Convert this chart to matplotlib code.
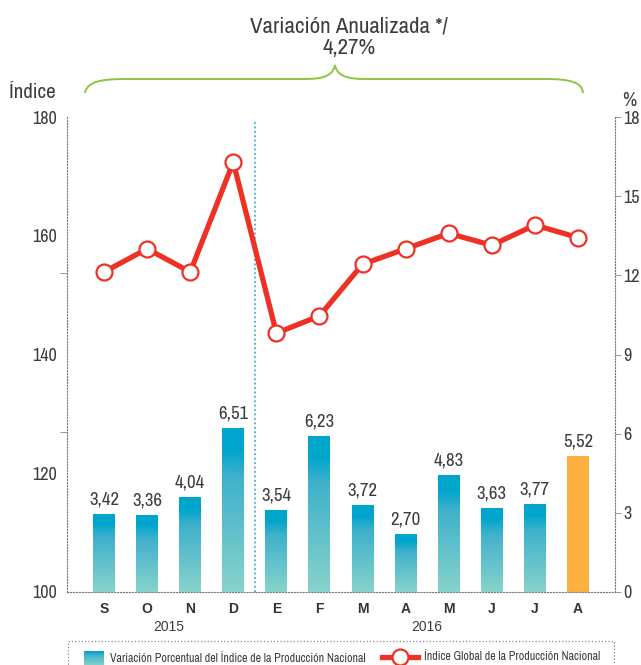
import numpy as np
import matplotlib.pyplot as plt
from matplotlib.colors import LinearSegmentedColormap
from matplotlib.path import Path
from matplotlib.patches import PathPatch, Rectangle
from matplotlib.lines import Line2D

plt.rcParams['font.family'] = ['Archivo Narrow', 'Liberation Sans Narrow', 'DejaVu Sans']

# data
months = ['S', 'O', 'N', 'D', 'E', 'F', 'M', 'A', 'M', 'J', 'J', 'A']
years = ['2015', '2016']
variacion = [3.42, 3.36, 4.04, 6.51, 3.54, 6.23, 3.72, 2.70, 4.83, 3.63, 3.77, 5.52]
indice = [153.9, 157.8, 153.9, 172.4, 143.6, 146.5, 155.2, 157.8, 160.4, 158.4, 161.8, 159.7]

TXT = '#3d3d3d'
W, H = 641, 665

def fx(px):
    return px / W

def fy(py):
    return 1 - py / H

fig = plt.figure(figsize=(6.41, 6.65), dpi=100)
rect = [fx(67), fy(592), fx(615) - fx(67), fy(117) - fy(592)]

# bars (gradient) on their own axis
ax_bar = fig.add_axes(rect)
ax_bar.set_xlim(-0.86, 11.86)
ax_bar.set_ylim(0.6, 17.81)
lo = ax_bar.get_ylim()[0]
x = np.arange(len(months))
colors = ['#00a5cc'] * (len(months) - 1) + ['#fbb040']
bars = ax_bar.bar(x, variacion, width=0.51, color=colors, zorder=2)
cmap = LinearSegmentedColormap.from_list('grad', [(0, '#88d3ca'), (0.7, '#3fb1cc'), (0.87, '#00a5cc'), (1, '#00a5cc')])
grad = np.linspace(0, 1, 256).reshape(-1, 1)
for b in bars[:-1]:
    x0, w, h = b.get_x(), b.get_width(), b.get_height()
    ax_bar.imshow(grad, cmap=cmap, origin='lower', aspect='auto',
                  extent=(x0, x0 + w, lo, h), zorder=3)
for b, v in zip(bars, variacion):
    ax_bar.annotate(f'{v:.2f}'.replace('.', ','), (b.get_x() + b.get_width() / 2, b.get_height()),
                    xytext=(0, 5), textcoords='offset points', ha='center', va='bottom',
                    fontsize=13.5, color=TXT)
ax_bar.set_xlim(-0.86, 11.86)
ax_bar.set_ylim(0.6, 17.81)
ax_bar.set_xticks(x)
ax_bar.set_xticklabels(months, fontweight='bold', fontsize=10, color='#333333',
                       family=['Liberation Sans', 'DejaVu Sans'])
ax_bar.tick_params(axis='x', length=0, pad=7)
ax_bar.set_yticks([])
for s in ['top', 'left', 'right']:
    ax_bar.spines[s].set_visible(False)
ax_bar.spines['bottom'].set_linestyle(':')
ax_bar.spines['bottom'].set_color('#777777')
ax_bar.axvline(3.5, ymax=0.99, color='#1ea5dc', linestyle=':', lw=1.2, zorder=1)

# year labels
for yr, grp in zip(years, [x[:4], x[4:]]):
    ax_bar.text(np.mean(grp), -0.074, yr, transform=ax_bar.get_xaxis_transform(),
                ha='center', va='center', fontsize=10, color=TXT,
                family=['Liberation Sans', 'DejaVu Sans'])

# right axis (%)
ax_r = ax_bar.twinx()
ax_r.set_ylim(0, 18)
ax_r.set_yticks(np.arange(0, 19, 3))
ax_r.tick_params(axis='y', length=4, width=0.6, color='#888888', labelsize=13, labelcolor=TXT, pad=2)
for s in ['top', 'left', 'bottom']:
    ax_r.spines[s].set_visible(False)
ax_r.spines['right'].set_linestyle(':')
ax_r.spines['right'].set_color('#777777')

# left axis (indice) with line
ax_l = ax_bar.twinx()
ax_l.yaxis.tick_left()
ax_l.set_ylim(100, 180)
ax_l.set_yticks(np.arange(100, 181, 20))
ax_l.set_yticks([126.9, 153.7, 180], minor=True)
ax_l.tick_params(axis='y', which='major', length=0, labelsize=13, labelcolor=TXT, pad=7)
ax_l.tick_params(axis='y', which='minor', length=5, width=0.6, color='#888888')
for s in ['top', 'right', 'bottom']:
    ax_l.spines[s].set_visible(False)
ax_l.spines['left'].set_visible(True)
ax_l.spines['left'].set_linestyle(':')
ax_l.spines['left'].set_color('#777777')
ax_l.plot(x, indice, color='#ee3124', lw=3.8, marker='o', ms=11.5,
          mfc='white', mec='#ee3124', mew=1.6, zorder=5, clip_on=False)

# axis titles
fig.text(fx(9), fy(92), 'Índice', fontsize=15, color=TXT, va='center', ha='left')
fig.text(fx(629), fy(100), '%', fontsize=14, color=TXT, va='center', ha='center')

# title and brace
fig.text(fx(349), fy(26), 'Variación Anualizada */', fontsize=16.5, color=TXT, ha='center', va='center')
fig.text(fx(349), fy(48), '4,27%', fontsize=16.5, color=TXT, ha='center', va='center')
pts = [(85, 93), (87, 82), (100, 79), (125, 79), (305, 79), (325, 79), (333, 75), (335, 65),
       (337, 75), (345, 79), (365, 79), (545, 79), (570, 79), (582, 82), (583, 93)]
codes = [Path.MOVETO, Path.CURVE4, Path.CURVE4, Path.CURVE4, Path.LINETO,
         Path.CURVE4, Path.CURVE4, Path.CURVE4, Path.CURVE4, Path.CURVE4, Path.CURVE4,
         Path.LINETO, Path.CURVE4, Path.CURVE4, Path.CURVE4]
brace = Path([(fx(a), fy(b)) for a, b in pts], codes)
fig.add_artist(PathPatch(brace, transform=fig.transFigure, fc='none', ec='#8cc63f', lw=1.4))

# legend
fig.add_artist(Rectangle((fx(68), fy(690)), fx(614) - fx(68), fy(641) - fy(690),
                         transform=fig.transFigure, fc='none', ec='#888888', ls=':', lw=0.9))
sw = fig.add_axes([fx(84), fy(666), fx(20), fy(651) - fy(666)])
sw.imshow(grad, cmap=cmap, origin='lower', aspect='auto')
sw.set_axis_off()
fig.text(fx(110), fy(658), 'Variación Porcentual del Índice de la Producción Nacional',
         fontsize=8.6, color=TXT, va='center', ha='left')
fig.add_artist(Line2D([fx(382), fx(418)], [fy(657), fy(657)], transform=fig.transFigure,
                      color='#ee3124', lw=3.8))
fig.add_artist(Line2D([fx(400)], [fy(657)], transform=fig.transFigure, marker='o', ms=11.5,
                      mfc='white', mec='#ee3124', mew=1.6))
fig.text(fx(424), fy(657), 'Índice Global de la Producción Nacional',
         fontsize=8.6, color=TXT, va='center', ha='left')

plt.savefig('out.png', dpi=100)
